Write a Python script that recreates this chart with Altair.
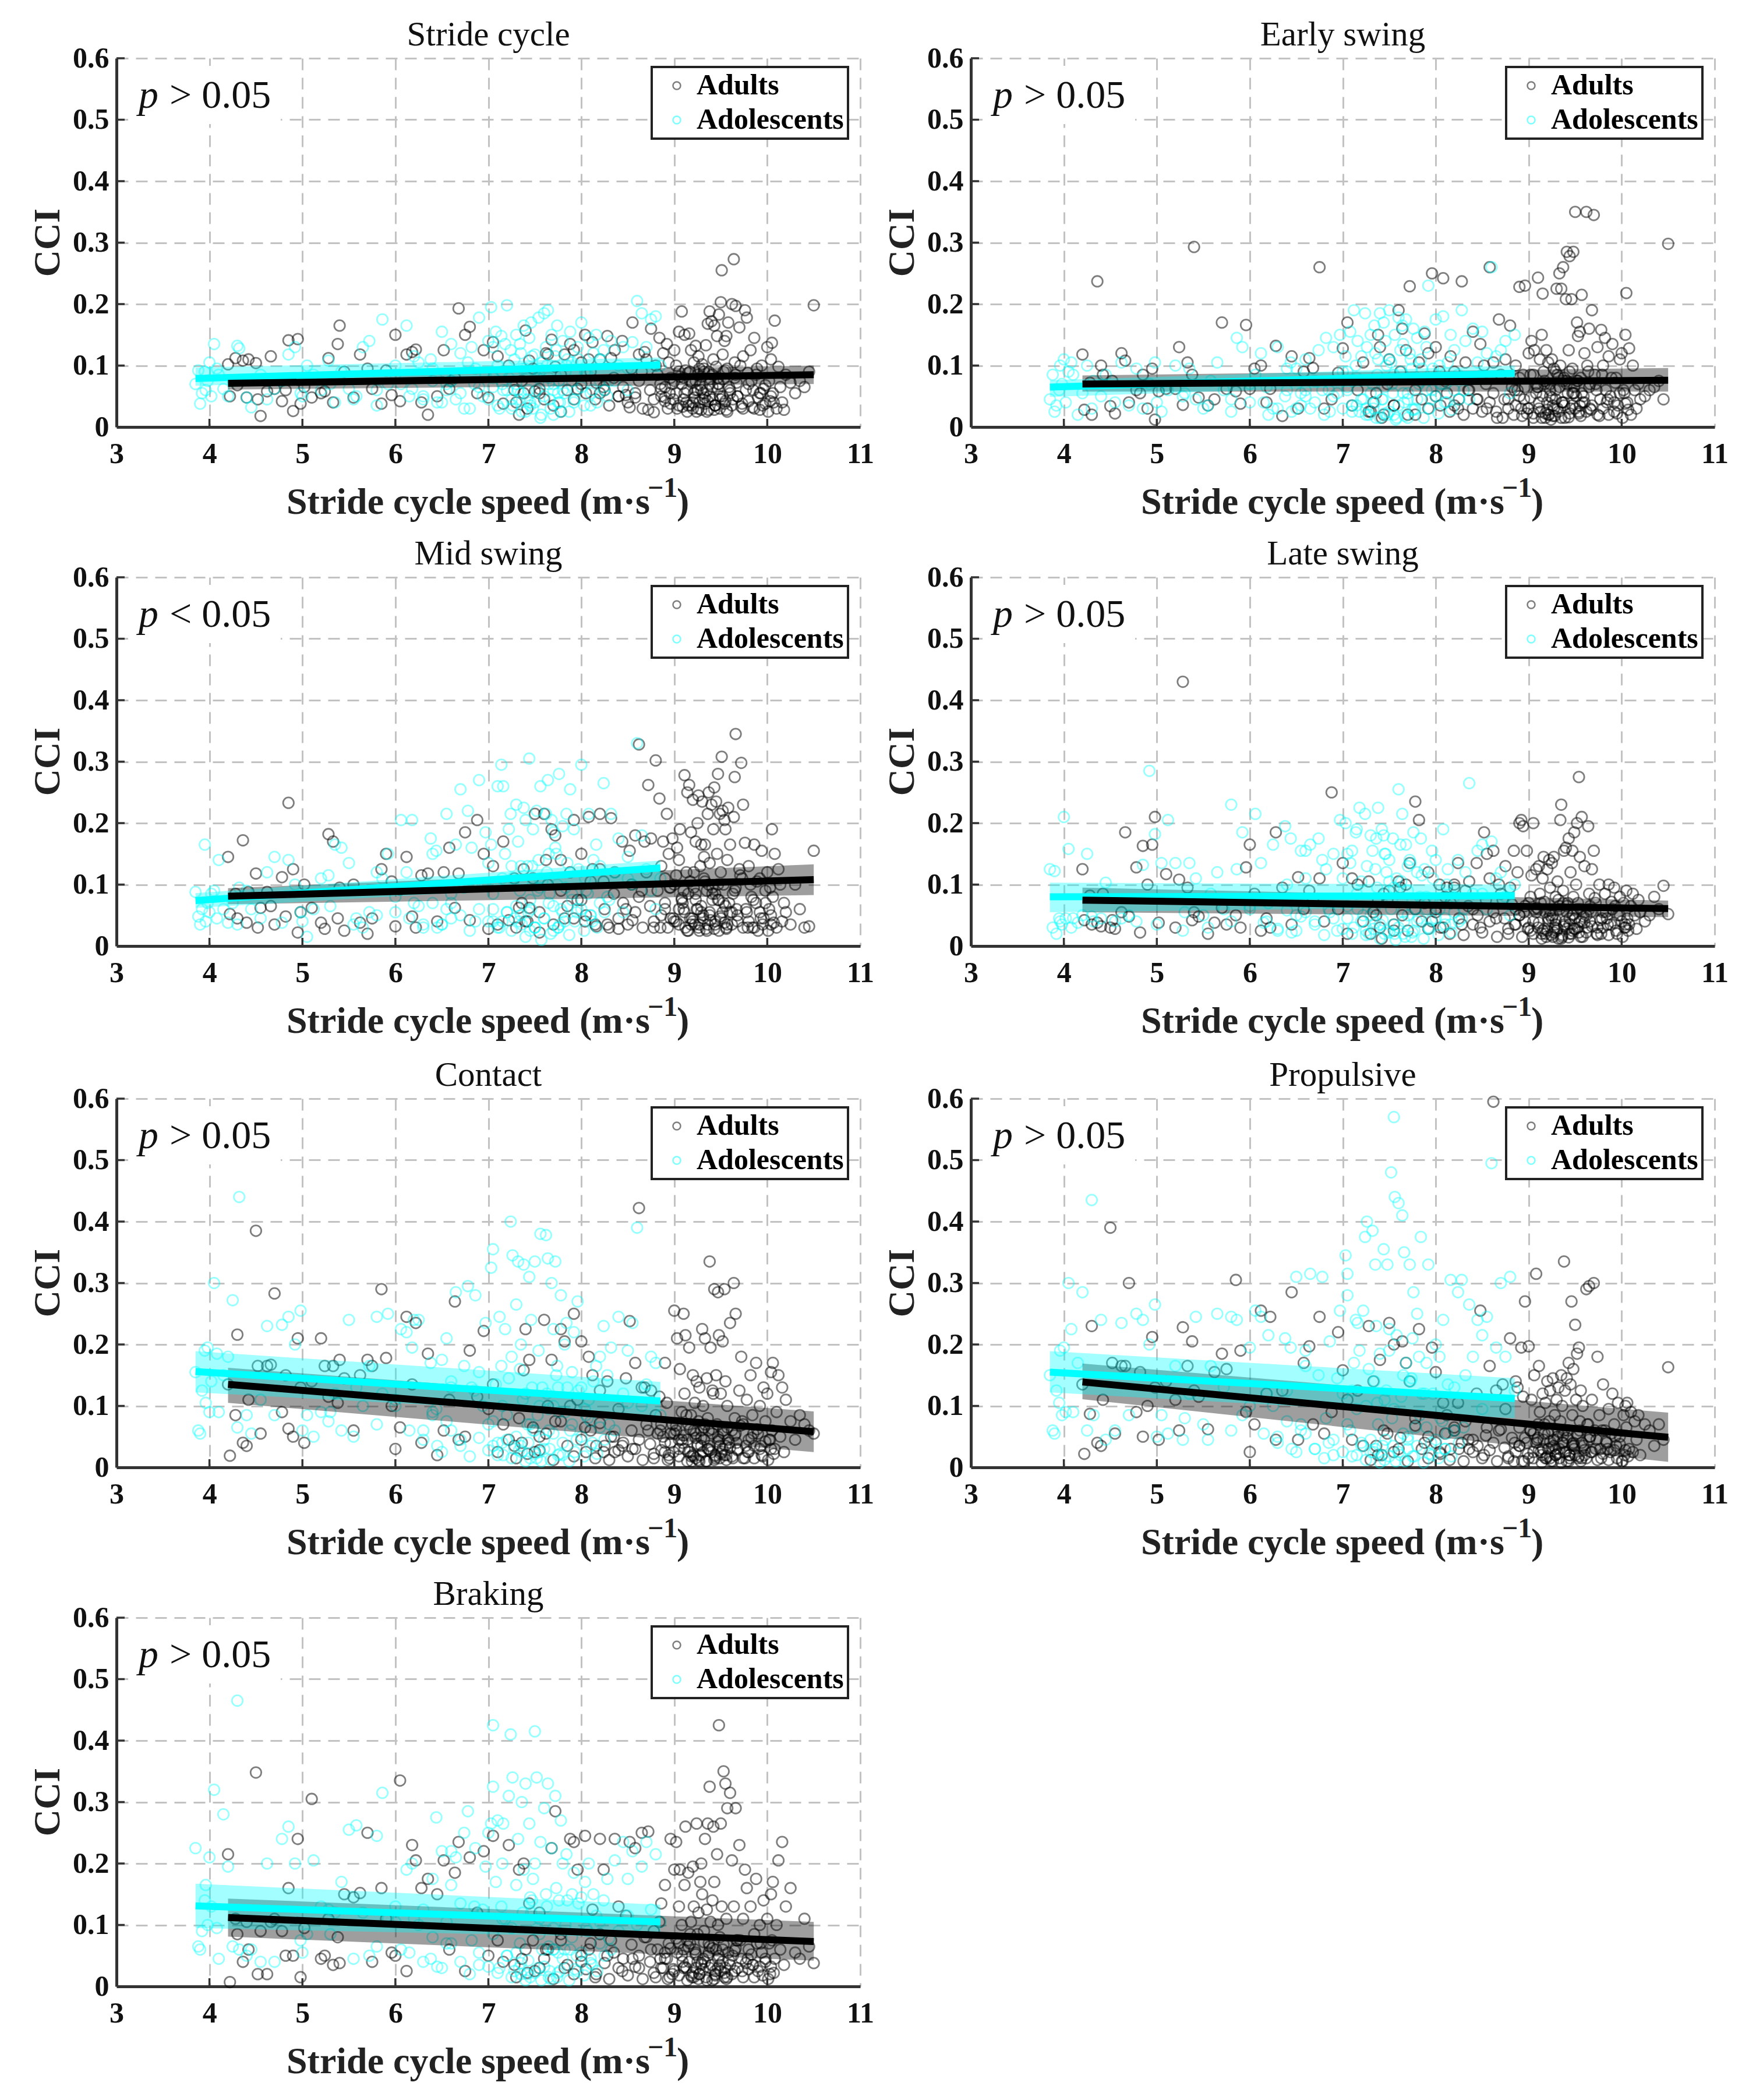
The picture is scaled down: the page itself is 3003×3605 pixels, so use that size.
import altair as alt
import pandas as pd

panel_titles = ["Stride cycle", "Early swing", "Mid swing", "Late swing", "Contact", "Propulsive", "Braking"]
p_signs = ["> 0.05", "> 0.05", "< 0.05", "> 0.05", "> 0.05", "> 0.05", "> 0.05"]
groups = ["Adults", "Adolescents"]
x_ticks = [3, 4, 5, 6, 7, 8, 9, 10, 11]
y_ticks = [0, 0.1, 0.2, 0.3, 0.4, 0.5, 0.6]

# Stride speed of each adult point (the same strides recur in every panel)
adult_x = [
 4.20,4.22,4.28,4.30,4.36,4.40,4.42,4.50,4.52,4.55,
 4.62,4.66,4.70,4.78,4.82,4.85,4.90,4.95,4.98,5.02,
 5.10,5.20,5.24,5.28,5.33,5.38,5.40,5.45,5.55,5.62,
 5.70,5.75,5.85,5.90,5.96,6.00,6.05,6.12,6.18,6.22,
 6.28,6.35,6.45,6.52,6.58,6.64,6.68,6.75,6.80,6.88,
 6.95,7.00,7.05,7.10,7.16,7.22,7.28,7.33,7.38,7.40,
 7.44,7.50,7.55,7.60,7.64,7.68,7.72,7.78,7.82,7.88,
 7.92,7.96,8.00,8.04,8.08,8.12,8.16,8.20,8.24,8.28,
 8.32,8.36,8.40,8.44,8.48,8.52,8.55,8.58,8.62,8.65,
 8.68,8.72,8.75,8.78,8.80,8.84,8.86,8.88,8.90,8.92,
 8.94,8.96,8.98,9.00,9.02,9.03,9.05,9.06,9.08,9.10,
 9.11,9.12,9.14,9.15,9.16,9.18,9.19,9.20,9.21,9.22,
 9.23,9.24,9.25,9.26,9.27,9.28,9.29,9.30,9.31,9.32,
 9.33,9.34,9.35,9.36,9.37,9.38,9.39,9.40,9.41,9.42,
 9.43,9.44,9.45,9.46,9.47,9.48,9.49,9.50,9.51,9.52,
 9.53,9.54,9.55,9.56,9.57,9.58,9.60,9.62,9.64,9.65,
 9.66,9.68,9.70,9.72,9.74,9.76,9.78,9.80,9.82,9.84,
 9.86,9.88,9.90,9.92,9.94,9.96,9.98,10.00,10.02,10.04,
 10.05,10.06,10.08,10.10,10.12,10.14,10.16,10.18,10.20,10.25,
 10.30,10.35,10.40,10.45,10.50,
 8.85,8.95,9.05,9.13,9.17,9.23,9.27,9.33,9.38,9.44,
 9.47,9.52,9.57,9.63,9.67,9.73,9.79,9.85,9.93,10.03,
 8.90,9.00,9.09,9.15,9.21,9.29,9.36,9.41,9.49,9.55,
 7.30,7.36,7.42,7.48,7.55,7.62,7.70,7.78,7.85,7.92,
 8.00,8.05,8.10,8.15,8.20,8.25,8.30,8.35,8.40,8.45,
 8.50,8.54,8.58,8.62,8.66,8.70,8.74,8.78,8.82,8.86,
 8.90,8.93,8.96,8.99,9.02,9.05,9.08,9.11,9.14,9.17,
 9.20,9.23,9.26,9.29,9.32,9.35,9.38,9.41,9.44,9.47,
 9.50,9.53,9.56,9.59,9.62,9.65,9.68,9.71,9.74,9.77,
 9.80,9.83,9.86,9.89,9.92,9.95,9.98,10.01,10.04,10.07,
 9.10,9.18,9.25,9.31,9.37,9.43,9.48,9.54,9.60,9.66,
]

# CCI x 1000 for the adult points, panel by panel
adult_stride = [
 102,50,112,68,108,48,110,104,45,18,
 58,115,62,42,60,141,26,143,38,65,
 48,55,58,112,40,135,165,90,48,118,
 95,62,38,92,52,150,42,118,122,126,
 40,20,50,125,62,80,193,150,163,55,
 125,48,138,115,38,100,60,20,55,157,
 108,58,62,45,118,142,98,25,118,135,
 125,62,105,150,110,138,72,55,65,148,
 112,125,50,140,52,32,170,48,118,90,
 122,28,160,24,100,145,62,120,42,135,
 105,38,70,125,55,30,155,82,188,45,
 150,92,60,35,152,125,72,30,105,48,
 132,25,85,115,40,68,28,102,55,90,
 38,133,60,168,28,188,78,172,45,110,
 165,35,98,148,62,183,30,203,255,118,
 78,140,42,148,25,170,60,200,273,105,
 197,50,162,33,115,190,178,70,125,32,
 145,85,48,28,100,62,38,130,75,110,
 137,55,173,30,98,65,40,28,85,72,
 55,75,65,90,198,
 70,55,90,40,75,60,95,48,70,35,
 80,50,95,45,72,38,88,60,55,42,
 48,75,33,88,55,82,42,65,50,92,
 40,75,30,95,55,120,35,85,60,45,
 70,55,90,45,110,60,35,80,50,65,
 40,95,55,75,30,110,60,45,85,50,
 65,30,80,45,100,35,70,55,25,90,
 40,75,30,60,95,25,50,85,35,70,
 45,90,28,65,35,80,50,100,30,60,
 42,75,30,95,55,35,68,25,50,40,
 80,35,60,45,90,28,70,38,55,85,
]
adult_early = [
 118,28,72,20,237,100,85,34,75,22,
 120,108,40,60,55,85,30,95,12,58,
 62,62,130,36,105,85,293,48,35,45,
 170,62,58,38,166,62,95,100,40,62,
 132,18,115,30,90,112,96,260,30,45,
 88,128,170,35,60,105,25,40,150,130,
 20,110,35,190,160,125,229,20,105,152,
 120,250,130,90,242,55,115,35,30,237,
 105,60,155,45,135,100,30,260,105,25,
 175,15,110,45,165,20,100,60,228,30,
 85,230,22,120,48,140,15,125,70,243,
 30,110,150,217,90,15,125,40,105,20,
 70,12,110,35,95,18,60,225,85,25,
 250,100,225,40,260,80,15,208,285,55,
 125,278,30,208,95,285,65,350,50,170,
 148,22,155,80,215,40,120,350,90,160,
 30,190,345,70,130,18,158,100,145,40,
 115,50,135,25,80,35,110,120,60,150,
 218,40,128,20,100,60,30,70,45,50,
 60,65,75,45,298,
 60,45,85,25,70,50,30,65,40,90,
 35,75,55,100,28,60,85,45,72,55,
 80,30,65,50,20,90,40,75,55,35,
 25,55,15,70,35,90,20,60,45,30,
 50,35,75,25,90,45,20,60,30,45,
 25,70,40,55,15,85,45,30,65,35,
 50,18,65,30,85,22,55,40,15,75,
 28,60,18,45,80,15,35,70,22,55,
 30,75,18,50,25,65,35,85,20,45,
 30,60,20,80,40,22,55,15,38,28,
 65,22,48,30,75,16,55,25,40,70,
]
adult_mid = [
 145,52,85,45,172,38,88,118,30,62,
 88,65,35,112,48,233,125,22,55,100,
 62,38,28,182,170,45,95,25,100,38,
 20,45,125,150,105,32,92,145,48,30,
 115,118,40,120,160,62,118,185,42,205,
 150,28,130,35,170,42,110,62,125,40,
 62,215,22,215,100,190,180,140,45,120,
 205,75,150,40,210,125,32,215,105,35,
 208,120,28,170,60,155,42,180,328,90,
 170,262,175,30,302,240,130,170,60,215,
 150,45,175,100,40,160,140,190,78,60,
 278,30,250,85,262,185,45,238,120,35,
 170,60,200,245,35,130,165,235,50,145,
 165,28,90,215,250,135,42,230,75,190,
 258,40,235,150,280,25,215,120,308,220,
 70,205,190,30,140,225,165,55,210,275,
 345,40,125,298,230,168,55,130,100,30,
 165,70,25,110,155,45,90,120,60,35,
 190,80,150,30,125,100,40,70,55,35,
 100,60,30,32,155,
 30,95,60,120,45,75,25,105,55,85,
 100,55,35,85,60,110,30,75,45,95,
 110,40,70,25,95,55,35,85,48,65,
 30,70,40,110,55,140,35,90,65,45,
 75,50,105,35,125,60,30,85,45,70,
 35,100,55,80,30,120,65,40,90,50,
 70,30,95,45,115,35,75,55,25,105,
 40,85,30,65,110,25,50,95,35,75,
 45,100,28,70,35,90,50,115,30,60,
 40,80,30,105,55,35,70,25,50,38,
 90,35,60,45,100,28,75,38,55,95,
]
adult_late = [
 125,42,82,35,38,32,85,30,42,28,
 55,185,48,128,22,163,100,165,210,38,
 117,30,108,430,95,42,55,48,20,38,
 62,35,50,30,128,165,85,25,45,30,
 185,95,35,112,60,90,75,110,40,250,
 60,135,20,110,100,40,105,55,75,30,
 85,90,25,105,50,100,135,235,205,70,
 120,40,60,100,30,95,70,100,135,35,
 90,105,60,135,30,185,150,110,155,45,
 100,75,130,20,95,155,60,120,200,205,
 195,40,155,70,25,115,200,60,125,30,
 130,85,20,110,145,55,15,125,40,140,
 95,18,135,50,145,30,80,25,105,12,
 60,205,230,15,90,155,40,160,28,70,
 175,35,120,20,155,80,185,45,100,200,
 30,275,145,60,210,15,130,50,195,85,
 40,125,155,70,30,100,20,55,85,45,
 100,35,60,95,25,50,80,40,70,30,
 90,45,35,65,85,50,28,75,55,40,
 50,80,60,98,52,
 35,55,40,70,28,50,22,65,35,45,
 25,60,40,30,55,20,45,35,65,30,
 50,30,62,25,45,35,18,55,28,40,
 20,50,12,75,35,95,25,60,40,28,
 55,30,80,20,95,45,18,65,35,50,
 22,75,40,55,15,85,45,28,68,35,
 50,15,65,28,80,20,55,38,12,72,
 25,58,15,42,75,12,32,65,20,50,
 28,70,15,48,22,60,32,78,18,42,
 30,55,18,72,38,20,50,15,35,25,
 60,20,45,28,70,14,52,22,38,65,
]
adult_contact = [
 135,19,85,216,40,35,110,385,165,55,
 165,167,283,90,150,63,50,210,130,40,
 140,210,165,115,165,105,175,145,60,150,
 175,165,290,178,100,30,65,245,135,235,
 40,185,20,60,110,270,45,50,190,115,
 222,95,135,25,70,45,35,80,158,225,
 175,25,50,240,100,175,75,225,205,100,
 250,110,205,65,180,150,35,125,25,140,
 50,25,95,35,145,238,30,170,422,130,
 130,60,125,15,85,115,70,50,170,105,
 20,40,70,255,60,210,30,160,90,250,
 120,215,45,25,195,85,10,150,60,105,
 15,140,35,75,130,20,60,225,100,45,
 210,10,145,80,30,335,195,25,125,120,
 290,15,150,70,285,215,35,120,25,205,
 55,290,140,20,100,45,235,60,300,80,
 250,30,125,180,70,15,110,45,150,85,
 35,170,55,100,20,130,75,120,45,155,
 60,170,30,90,150,50,130,25,110,75,
 45,85,70,60,55,
 60,15,45,85,25,55,10,70,35,20,
 50,30,65,15,40,75,25,55,35,45,
 25,55,40,70,18,48,30,62,15,35,
 15,40,22,65,28,55,12,75,35,18,
 45,25,60,15,72,35,12,50,28,40,
 18,60,30,45,12,70,38,22,55,28,
 40,12,55,25,68,18,45,30,10,62,
 20,48,12,35,65,10,28,55,18,42,
 22,60,12,40,18,52,28,68,15,35,
 25,48,15,62,30,18,42,12,30,22,
 52,18,38,25,60,12,45,20,32,55,
]
adult_propulsive = [
 135,22,87,230,40,35,110,390,170,55,
 165,165,300,90,155,50,100,212,130,45,
 140,110,60,228,165,205,125,115,62,155,
 185,160,305,190,90,25,70,255,120,245,
 45,125,285,45,170,197,70,245,55,90,
 220,158,110,45,125,35,230,140,20,175,
 60,235,200,30,205,170,140,80,225,40,
 50,195,155,25,105,85,30,60,105,40,
 75,30,45,120,255,20,65,165,595,125,
 60,135,95,15,210,10,140,130,35,195,
 115,270,40,197,60,110,25,150,315,70,
 165,90,20,120,45,105,15,140,30,75,
 125,10,60,145,35,85,20,110,50,130,
 15,75,150,100,40,335,125,25,145,60,
 170,20,135,270,85,160,30,232,110,185,
 15,195,60,125,40,100,20,290,70,295,
 50,110,300,30,180,85,15,135,60,40,
 95,25,120,70,35,105,50,10,85,100,
 65,105,30,90,25,75,45,85,20,70,
 60,35,70,45,163,
 40,10,55,25,70,15,45,30,60,20,
 35,55,15,70,25,45,60,30,50,20,
 65,15,45,30,55,20,40,10,35,75,
 12,35,20,55,25,48,10,68,30,15,
 40,22,55,12,65,30,10,45,25,35,
 15,52,28,40,10,62,32,18,48,25,
 35,10,48,22,60,15,40,28,8,55,
 18,42,10,30,58,8,25,48,15,38,
 20,52,10,35,15,45,25,60,12,30,
 22,42,12,55,28,15,38,10,28,18,
 48,15,32,22,52,10,40,18,28,50,
]
adult_braking = [
 215,7,110,85,40,105,60,348,20,90,
 20,105,110,90,50,160,50,240,15,95,
 305,45,50,110,35,80,38,150,145,152,
 250,40,160,110,55,50,335,25,230,205,
 160,175,150,205,60,185,235,25,210,120,
 220,50,245,75,40,230,35,190,200,60,
 135,25,120,45,60,225,285,75,30,240,
 235,190,40,245,60,125,20,240,190,50,
 75,240,130,25,115,235,45,225,30,250,
 80,252,60,90,15,105,135,30,165,45,
 70,240,20,190,235,55,130,190,100,30,
 165,260,75,185,40,105,15,195,130,60,
 30,265,85,120,20,170,200,150,45,90,
 240,15,125,265,55,325,105,35,140,260,
 170,20,60,215,100,425,35,265,130,40,
 350,15,330,110,290,55,315,205,130,25,
 290,75,230,45,110,190,160,60,130,35,
 85,175,25,100,55,140,40,110,70,150,
 75,170,45,100,205,60,235,35,130,160,
 55,45,110,65,38,
 45,15,70,30,85,55,20,40,65,25,
 30,60,15,50,75,25,45,35,70,20,
 55,25,40,65,15,35,50,10,80,30,
 15,45,22,75,30,60,12,85,35,20,
 50,28,70,15,85,38,12,55,30,45,
 18,68,32,50,12,80,40,22,60,30,
 45,12,62,28,78,18,50,32,10,70,
 22,52,12,38,72,10,30,62,18,45,
 25,68,12,42,20,58,30,75,15,38,
 28,52,15,70,32,18,45,12,32,22,
 60,18,40,28,70,12,50,22,35,62,
]

# Stride speed of each adolescent point
adol_x = [
 3.85,3.88,3.90,3.92,3.95,3.96,3.98,4.00,4.02,4.05,
 4.08,4.10,4.15,4.20,4.25,4.30,4.32,4.40,4.45,4.55,
 4.62,4.70,4.78,4.85,4.92,4.98,5.05,5.12,5.20,5.28,
 5.35,5.42,5.50,5.58,5.65,5.72,5.80,5.86,5.92,6.00,
 6.06,6.12,6.18,6.25,6.30,6.38,6.44,6.50,6.55,6.60,
 6.65,6.70,6.74,6.78,6.82,6.86,6.90,6.94,6.97,7.00,
 7.03,7.05,7.08,7.10,7.12,7.14,7.16,7.18,7.20,7.22,
 7.24,7.26,7.28,7.30,7.32,7.34,7.36,7.38,7.40,7.42,
 7.44,7.46,7.48,7.50,7.52,7.54,7.56,7.58,7.60,7.62,
 7.64,7.66,7.68,7.70,7.72,7.74,7.76,7.78,7.80,7.82,
 7.84,7.88,7.92,7.96,8.00,8.04,8.08,8.12,8.16,8.20,
 8.24,8.28,8.32,8.36,8.40,8.45,8.50,8.55,8.60,8.65,
 8.70,8.75,8.80,8.85,7.15,7.35,7.55,7.75,7.45,7.65,
 6.85,7.05,7.25,7.50,7.70,7.90,8.10,6.60,6.40,6.20,
 6.50,6.60,6.70,6.80,6.90,7.00,7.05,7.10,7.15,7.20,
 7.25,7.30,7.33,7.37,7.40,7.43,7.47,7.50,7.53,7.57,
 7.60,7.63,7.67,7.70,7.73,7.77,7.80,7.83,7.87,7.90,
 7.93,7.97,8.00,8.03,8.07,8.10,8.13,8.17,8.20,8.25,
 5.00,5.30,5.55,5.80,6.00,6.15,6.30,6.40,6.45,6.55,
 7.35,7.45,7.55,7.65,7.75,7.85,7.95,8.05,8.30,8.50,
]
adol_stride = [
 70,92,38,55,90,60,75,105,50,135,
 95,85,62,50,75,132,128,48,32,85,
 45,62,75,118,130,55,100,85,60,108,
 40,90,62,50,130,140,35,175,70,100,
 70,165,62,105,50,110,80,155,60,135,
 45,120,30,105,130,95,178,50,85,140,
 195,65,155,100,30,148,60,135,198,80,
 125,35,110,150,60,135,25,165,95,45,
 145,170,30,118,60,178,15,105,185,130,
 190,45,150,20,115,165,75,25,140,55,
 100,155,40,130,170,90,145,60,150,110,
 125,50,140,75,100,130,60,138,205,185,
 130,175,180,100,70,120,90,55,40,80,
 70,130,45,90,60,105,35,75,95,115,
 40,75,55,30,65,45,80,35,90,60,
 30,70,45,95,25,60,115,40,80,20,
 50,100,30,70,125,40,60,90,25,75,
 45,110,65,35,85,55,120,40,75,60,
 50,70,45,60,85,50,45,75,40,70,
 55,35,95,70,40,110,60,85,75,95,
]
adol_early = [
 45,85,25,35,60,100,70,110,40,90,
 105,85,20,55,100,30,75,50,85,40,
 105,35,95,30,70,105,25,60,100,50,
 95,45,30,75,105,60,25,145,130,40,
 85,120,65,30,130,50,105,95,35,110,
 30,75,125,60,145,25,130,55,150,90,
 115,60,155,35,190,100,140,25,115,45,
 185,130,20,150,70,165,15,110,185,45,
 170,140,20,190,105,55,150,15,178,125,
 165,40,175,15,120,95,160,30,145,70,
 110,155,230,60,175,100,180,40,150,125,
 85,190,140,45,160,105,155,120,260,115,
 125,140,55,150,35,120,20,80,65,135,
 60,90,30,110,45,130,70,50,95,20,
 30,60,40,20,50,30,65,25,80,45,
 20,55,30,85,15,45,100,25,70,12,
 35,90,18,55,110,28,45,75,15,60,
 30,95,50,22,70,40,105,28,60,45,
 40,55,35,45,70,40,30,60,25,55,
 40,22,85,55,28,95,45,70,60,85,
]
adol_mid = [
 88,48,35,60,165,40,70,55,85,90,
 45,140,60,38,70,35,95,90,60,45,
 120,145,38,140,100,55,15,60,110,115,
 165,160,135,45,30,55,120,110,150,55,
 205,120,205,65,30,175,155,35,215,85,
 165,255,95,220,160,40,270,100,185,135,
 165,40,100,260,30,295,260,150,55,190,
 215,110,45,230,170,90,35,225,205,130,
 305,60,190,30,220,140,260,105,45,215,
 270,85,205,25,160,100,280,60,195,40,
 215,255,190,60,295,110,215,40,165,130,
 265,80,215,120,175,55,145,100,330,180,
 125,90,60,110,40,130,95,30,75,150,
 100,60,130,30,185,85,50,45,150,70,
 35,70,50,25,60,40,85,30,110,55,
 25,65,40,105,15,55,130,30,90,10,
 45,120,20,65,150,35,55,95,18,75,
 40,125,60,25,85,50,140,30,70,55,
 40,65,35,50,80,45,35,70,30,60,
 50,25,110,70,30,135,55,90,75,110,
]
adol_late = [
 125,30,122,20,45,40,35,210,45,158,
 30,45,38,50,150,48,40,45,103,40,
 45,50,40,132,285,182,135,205,135,25,
 135,110,50,85,120,60,230,125,185,60,
 215,135,40,165,25,195,175,50,155,110,
 165,40,175,140,125,55,150,25,205,110,
 200,45,135,155,30,185,60,225,105,50,
 215,130,20,180,155,60,175,225,35,190,
 180,150,25,140,60,175,20,110,255,165,
 215,40,165,90,140,15,185,60,120,45,
 175,125,30,155,140,60,190,100,35,80,
 140,45,120,265,85,155,165,60,170,110,
 120,80,50,100,190,125,35,75,150,20,
 60,150,25,105,130,80,45,155,100,70,
 25,55,35,18,45,28,65,20,85,40,
 18,50,28,95,12,42,120,22,75,10,
 30,105,15,50,135,25,40,80,12,60,
 28,110,45,18,70,35,125,22,55,40,
 35,55,30,40,65,38,28,58,22,48,
 38,20,95,55,22,115,42,72,60,85,
]
adol_contact = [
 155,60,55,125,190,105,195,90,140,300,
 185,90,150,180,272,65,440,85,55,110,
 230,85,232,245,200,255,85,50,90,75,
 120,60,240,130,100,165,245,120,250,100,
 225,220,195,240,60,170,95,175,210,130,
 285,45,165,295,130,280,155,100,235,70,
 325,355,135,40,245,165,20,225,85,145,
 400,345,30,265,335,160,25,330,120,70,
 310,240,60,335,15,190,380,130,45,378,
 340,30,300,225,335,165,90,280,20,200,
 235,60,220,270,130,95,110,40,165,180,
 230,150,195,60,245,120,190,235,390,100,
 135,180,170,85,40,200,25,130,70,95,
 125,35,180,60,100,155,75,140,90,240,
 25,60,35,18,48,28,75,20,100,45,
 15,50,28,110,10,40,130,22,85,10,
 30,120,12,55,150,22,40,90,10,70,
 25,125,50,18,80,35,140,22,65,45,
 60,90,50,70,110,60,45,85,35,75,
 35,15,100,60,20,130,45,85,70,105,
]
adol_propulsive = [
 150,60,55,125,105,190,85,195,90,300,
 225,90,170,285,60,435,85,240,45,60,
 235,85,250,240,200,265,85,55,165,45,
 120,245,70,165,250,130,245,240,85,195,
 255,245,120,100,50,210,195,310,60,165,
 315,30,150,310,80,205,20,145,255,120,
 345,315,60,125,170,240,235,190,35,255,
 375,400,160,25,385,140,230,70,185,20,
 355,45,330,190,480,35,440,215,430,20,
 410,350,170,30,330,145,285,65,250,180,
 375,120,330,20,200,180,240,55,305,130,
 285,305,150,265,180,240,215,245,495,195,
 300,180,310,125,20,330,570,210,110,150,
 40,280,100,225,45,170,30,190,125,215,
 25,55,30,15,45,25,70,18,95,40,
 12,45,25,105,8,35,125,18,80,10,
 25,115,10,50,140,18,35,85,8,65,
 22,120,45,15,75,30,135,18,60,40,
 50,80,45,60,100,55,40,75,30,70,
 30,12,95,55,18,120,40,80,65,95,
]
adol_braking = [
 225,65,60,90,140,165,100,210,130,320,
 95,45,280,195,65,465,60,50,60,40,
 200,40,240,260,200,75,85,205,130,125,
 120,170,255,262,120,50,245,315,110,130,
 60,190,200,100,125,45,275,220,105,165,
 210,135,250,285,75,225,35,125,195,250,
 265,325,170,270,30,130,265,110,50,310,
 410,340,25,165,240,70,300,190,330,20,
 265,120,175,415,340,30,235,60,290,150,
 330,25,225,95,310,15,140,270,200,60,
 215,60,185,25,145,170,200,35,115,105,
 140,175,60,205,90,235,175,220,100,195,
 235,125,215,105,200,20,85,55,145,15,
 130,425,95,200,60,150,45,220,175,110,
 30,70,40,20,55,32,85,22,110,50,
 15,55,30,120,10,42,140,22,95,10,
 32,130,12,60,160,25,45,100,10,80,
 28,135,55,18,90,38,150,25,70,50,
 55,85,45,65,105,55,40,80,32,70,
 38,15,110,65,22,140,50,95,78,115,
]
adult_series = [adult_stride, adult_early, adult_mid, adult_late, adult_contact, adult_propulsive, adult_braking]
adol_series = [adol_stride, adol_early, adol_mid, adol_late, adol_contact, adol_propulsive, adol_braking]

# Regression lines and confidence bands: value at the left and right end of each group
adult_ends = [4.2, 10.5]
adol_ends = [3.85, 8.85]
adult_fit = [[.071,.085],[.070,.076],[.081,.108],[.0746,.061],[.135,.058],[.139,.049],[.112,.073]]
adult_lo = [[.061,.070],[.0575,.0575],[.068,.083],[.055,.047],[.105,.025],[.111,.009],[.081,.042]]
adult_hi = [[.083,.100],[.084,.096],[.094,.133],[.095,.074],[.162,.091],[.169,.089],[.143,.105]]
adol_fit = [[.079,.101],[.065,.0875],[.074,.127],[.080,.082],[.156,.108],[.155,.112],[.131,.105]]
adol_lo = [[.067,.089],[.049,.074],[.062,.106],[.055,.064],[.122,.082],[.122,.080],[.095,.079]]
adol_hi = [[.097,.113],[.076,.100],[.086,.139],[.103,.100],[.189,.139],[.189,.145],[.167,.133]]

W, H = 1277, 633
SERIF = "Liberation Serif"
x_scale = alt.Scale(domain=[3, 11], nice=False, zero=False)
y_scale = alt.Scale(domain=[0, 0.6], nice=False, zero=False)
color_scale = alt.Scale(domain=groups, range=["#000000", "#00ffff"])
one = pd.DataFrame({"k": [0]})


def label(text, x, y, size, weight="normal", style="normal", angle=0, align="left", color="#111111"):
    kw = {"angle": angle} if angle else {}
    return alt.Chart(one).mark_text(
        text=text, font=SERIF, fontSize=size, fontWeight=weight, fontStyle=style,
        align=align, baseline="alphabetic", color=color, **kw
    ).encode(x=alt.value(x), y=alt.value(y))


def panel(i):
    ax_x = alt.Axis(values=x_ticks, title=None, format="d", grid=True, gridColor="#c2c2c2", gridWidth=3, gridDash=[20, 13],
                    tickSize=0, domainColor="#333333", domainWidth=5, labelFont=SERIF, labelFontSize=50,
                    labelFontWeight="bold", labelColor="#111111", labelPadding=21, labelFlush=False, labelOverlap=False)
    ax_y = alt.Axis(values=y_ticks, title=None, grid=True, gridColor="#c2c2c2", gridWidth=3, gridDash=[20, 13],
                    tickSize=0, domainColor="#333333", domainWidth=5, labelFont=SERIF, labelFontSize=50,
                    labelFontWeight="bold", labelColor="#111111", labelPadding=13, labelFlush=False, labelOverlap=False,
                    labelExpr="datum.value == 0 ? '0' : format(datum.value, '.1f')")
    legend = alt.Legend(title=None, orient="none", legendX=919, legendY=15, padding=7, symbolType="circle",
                        symbolSize=170, symbolStrokeWidth=2.5, symbolOpacity=0.5, symbolOffset=11, labelOffset=9,
                        labelFont=SERIF, labelFontSize=50, labelFontWeight="bold", labelColor="#000000",
                        labelLimit=600, rowPadding=9, fillColor="white", strokeColor="#222222")
    pts_a = pd.DataFrame([{"x": a, "y": b / 1000, "g": "Adults"} for a, b in zip(adult_x, adult_series[i])])
    pts_c = pd.DataFrame([{"x": a, "y": b / 1000, "g": "Adolescents"} for a, b in zip(adol_x, adol_series[i])])
    enc = dict(x=alt.X("x:Q", scale=x_scale, axis=ax_x),
               y=alt.Y("y:Q", scale=y_scale, axis=ax_y),
               color=alt.Color("g:N", scale=color_scale, legend=legend, sort=groups))
    scatter_a = alt.Chart(pts_a).mark_point(filled=False, size=340, strokeWidth=2.8, opacity=0.5).encode(**enc)
    scatter_c = alt.Chart(pts_c).mark_point(filled=False, size=340, strokeWidth=2.8, opacity=0.4).encode(**enc)

    fit_a = pd.DataFrame({"x": adult_ends, "m": adult_fit[i], "lo": adult_lo[i], "hi": adult_hi[i]})
    fit_c = pd.DataFrame({"x": adol_ends, "m": adol_fit[i], "lo": adol_lo[i], "hi": adol_hi[i]})
    band_a = alt.Chart(fit_a).mark_area(color="#000000", opacity=0.38).encode(
        x=alt.X("x:Q", scale=x_scale), y=alt.Y("lo:Q", scale=y_scale), y2="hi:Q")
    band_c = alt.Chart(fit_c).mark_area(color="#00ffff", opacity=0.36).encode(
        x=alt.X("x:Q", scale=x_scale), y=alt.Y("lo:Q", scale=y_scale), y2="hi:Q")
    line_c = alt.Chart(fit_c).mark_line(color="#00ffff", strokeWidth=12, strokeCap="butt").encode(
        x=alt.X("x:Q", scale=x_scale), y=alt.Y("m:Q", scale=y_scale))
    line_a = alt.Chart(fit_a).mark_line(color="#000000", strokeWidth=12, strokeCap="butt").encode(
        x=alt.X("x:Q", scale=x_scale), y=alt.Y("m:Q", scale=y_scale))

    tx = pd.DataFrame({"v": x_ticks[1:-1]})
    ty = pd.DataFrame({"v": y_ticks[1:-1] + [0.6]})
    ticks_x = alt.Chart(tx).mark_rule(color="#333333", strokeWidth=3.5).encode(
        x=alt.X("v:Q", scale=x_scale), y=alt.value(H), y2=alt.value(H - 14))
    ticks_y = alt.Chart(ty).mark_rule(color="#333333", strokeWidth=3.5).encode(
        y=alt.Y("v:Q", scale=y_scale), x=alt.value(0), x2=alt.value(14))
    mask = alt.Chart(one).mark_rect(color="white").encode(
        x=alt.value(20), x2=alt.value(282), y=alt.value(13), y2=alt.value(113))

    return alt.layer(
        mask, scatter_a, scatter_c, band_a, band_c, line_c, line_a, ticks_x, ticks_y,
        label(panel_titles[i], W / 2, -22, 59, align="center"),
        label("p", 38, 85, 68, style="italic"),
        label(p_signs[i], 91, 85, 68),
        label("Stride cycle speed (m·s", 292, 782, 64, weight="bold", color="#222222"),
        label("−1", 912, 753, 48, weight="bold", color="#222222"),
        label(")", 962, 782, 64, weight="bold", color="#222222"),
        label("CCI", -98, H / 2, 64, weight="bold", angle=270, align="center", color="#222222"),
    ).properties(width=W, height=H)


charts = [panel(i) for i in range(7)]
ind = dict(color="independent")
row1 = alt.hconcat(charts[0], charts[1], spacing=17).resolve_scale(**ind)
row2 = alt.hconcat(charts[2], charts[3], spacing=17).resolve_scale(**ind)
row3 = alt.hconcat(charts[4], charts[5], spacing=17).resolve_scale(**ind)
row4 = alt.hconcat(charts[6], spacing=17).resolve_scale(**ind)
top = alt.vconcat(row1, row2, spacing=27).resolve_scale(**ind)
bottom = alt.vconcat(row3, row4, spacing=27).resolve_scale(**ind)
chart = alt.vconcat(top, bottom, spacing=31).resolve_scale(**ind).properties(
    padding={"left": 43, "top": 23, "right": 5, "bottom": 5}, background="white"
).configure_view(stroke=None).configure_legend(strokeWidth=4)
chart.save("out.html", embed_options={"renderer": "svg", "actions": False})
